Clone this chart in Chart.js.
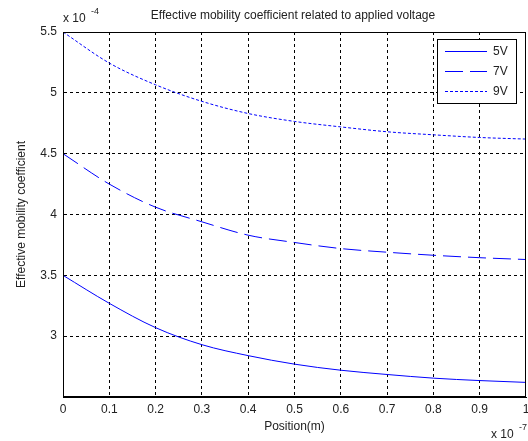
<!DOCTYPE html>
<html>
<head>
<meta charset="utf-8">
<script src="https://cdn.jsdelivr.net/npm/chart.js@4.4.1/dist/chart.umd.min.js"></script>
<style>
    html, body { margin: 0; padding: 0; background: #fff; }
</style>
</head>
<body>
<canvas id="myChart" width="528" height="441"></canvas>
<script>
// positions in units of 1e-7 m
const positions = [0, 0.1, 0.2, 0.3, 0.4, 0.5, 0.6, 0.7, 0.8, 0.9, 1.0];
// mobility in units of 1e-4
const mobility5V = [3.50, 3.27, 3.07, 2.93, 2.84, 2.77, 2.72, 2.685, 2.655, 2.635, 2.62];
const mobility7V = [4.50, 4.25, 4.06, 3.94, 3.83, 3.77, 3.72, 3.69, 3.665, 3.645, 3.63];
const mobility9V = [5.50, 5.245, 5.066, 4.93, 4.83, 4.765, 4.72, 4.68, 4.655, 4.633, 4.62];
const seriesLabels = ['5V', '7V', '9V'];
const xTickValues = [0, 0.1, 0.2, 0.3, 0.4, 0.5, 0.6, 0.7, 0.8, 0.9, 1];
const yTickValues = [3, 3.5, 4, 4.5, 5, 5.5];

const FONT = 'Arial, "Liberation Sans", sans-serif';
const TEXT = '#222';
const LINE = '#0000ff';

function toPoints(values) {
    return positions.map((p, i) => ({ x: p, y: values[i] }));
}

// frame, legend and the extra labels MATLAB style
const extras = {
    id: 'extras',
    afterDraw(chart) {
        const ctx = chart.ctx;
        const a = chart.chartArea;
        ctx.save();

        // box around the axes
        ctx.strokeStyle = '#000';
        ctx.lineWidth = 1;
        ctx.setLineDash([]);
        ctx.strokeRect(Math.round(a.left) + 0.5, Math.round(a.top) + 0.5,
            Math.round(a.right - a.left) - 1, Math.round(a.bottom - a.top) - 1);

        // title
        ctx.fillStyle = TEXT;
        ctx.font = '12px ' + FONT;
        ctx.textAlign = 'center';
        ctx.textBaseline = 'middle';
        ctx.fillText('Effective mobility coefficient related to applied voltage', 293, 16);

        // axis titles
        ctx.fillText('Position(m)', (a.left + a.right) / 2, 427);
        ctx.save();
        ctx.translate(22, (a.top + a.bottom) / 2);
        ctx.rotate(-Math.PI / 2);
        ctx.fillText('Effective mobility coefficient', 0, 0);
        ctx.restore();

        // exponent labels
        ctx.textAlign = 'left';
        ctx.font = '12px ' + FONT;
        ctx.fillText('x 10', 63, 19);
        ctx.fillText('x 10', 491, 435);
        ctx.font = '9px ' + FONT;
        ctx.fillText('-4', 91, 12);
        ctx.fillText('-7', 519, 428);

        // legend
        const lx = 437, ly = 39, lw = 79, lh = 64;
        ctx.fillStyle = '#fff';
        ctx.fillRect(lx, ly, lw, lh);
        ctx.strokeStyle = '#000';
        ctx.strokeRect(lx + 0.5, ly + 0.5, lw, lh);
        const rows = [51.5, 71.5, 91.5];
        chart.data.datasets.forEach((ds, i) => {
            ctx.strokeStyle = LINE;
            ctx.lineWidth = 1;
            ctx.setLineDash(ds.borderDash || []);
            ctx.beginPath();
            ctx.moveTo(445, rows[i]);
            ctx.lineTo(487, rows[i]);
            ctx.stroke();
            ctx.setLineDash([]);
            ctx.fillStyle = TEXT;
            ctx.font = '12px ' + FONT;
            ctx.textAlign = 'left';
            ctx.fillText(ds.label, 493, rows[i]);
        });
        ctx.restore();
    }
};

const ctx = document.getElementById('myChart').getContext('2d');
const myChart = new Chart(ctx, {
    type: 'line',
    data: {
        datasets: [{
            label: seriesLabels[0],
            data: toPoints(mobility5V),
            borderColor: LINE,
            borderWidth: 1,
            pointRadius: 0,
            cubicInterpolationMode: 'monotone',
            fill: false
        }, {
            label: seriesLabels[1],
            data: toPoints(mobility7V),
            borderColor: LINE,
            borderWidth: 1,
            borderDash: [18, 7],
            pointRadius: 0,
            cubicInterpolationMode: 'monotone',
            fill: false
        }, {
            label: seriesLabels[2],
            data: toPoints(mobility9V),
            borderColor: LINE,
            borderWidth: 1,
            borderDash: [3, 2],
            pointRadius: 0,
            cubicInterpolationMode: 'monotone',
            fill: false
        }]
    },
    options: {
        responsive: false,
        animation: false,
        devicePixelRatio: 1,
        layout: {
            padding: { top: 32, right: 2, bottom: 0, left: 0 }
        },
        plugins: {
            legend: { display: false },
            title: { display: false },
            tooltip: { enabled: false }
        },
        scales: {
            x: {
                type: 'linear',
                min: 0,
                max: 1,
                afterBuildTicks: (scale) => {
                    scale.ticks = xTickValues.map(v => ({ value: v }));
                },
                afterFit: (scale) => {
                    scale.height = 44;
                    scale.paddingLeft = 0;
                    scale.paddingRight = 0;
                },
                ticks: {
                    padding: 5,
                    maxRotation: 0,
                    color: TEXT,
                    font: { family: FONT, size: 12 },
                    callback: (v) => String(+v.toFixed(1))
                },
                grid: {
                    color: (c) => (c.tick && (c.tick.value === 0 || c.tick.value === 1)) ? 'rgba(0,0,0,0)' : '#000',
                    lineWidth: 1,
                    tickLength: 0,
                    drawTicks: false
                },
                border: { display: true, color: '#000', width: 1, dash: [3, 3] }
            },
            y: {
                min: 2.5,
                max: 5.5,
                afterBuildTicks: (scale) => {
                    scale.ticks = yTickValues.map(v => ({ value: v }));
                },
                afterFit: (scale) => {
                    scale.width = 63;
                    scale.paddingTop = 0;
                    scale.paddingBottom = 0;
                },
                ticks: {
                    padding: 6,
                    color: TEXT,
                    font: { family: FONT, size: 12 },
                    callback: (v) => String(v)
                },
                grid: {
                    color: (c) => (c.tick && c.tick.value === 5.5) ? 'rgba(0,0,0,0)' : '#000',
                    lineWidth: 1,
                    tickLength: 0,
                    drawTicks: false
                },
                border: { display: true, color: '#000', width: 1, dash: [3, 3] }
            }
        }
    },
    plugins: [extras]
});
</script>
</body>
</html>
